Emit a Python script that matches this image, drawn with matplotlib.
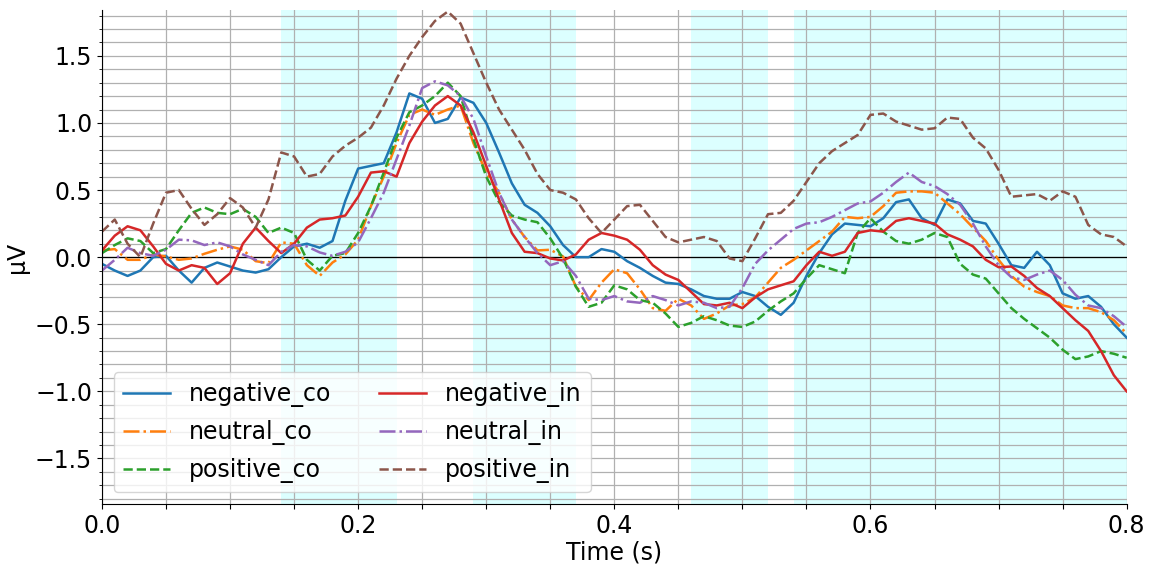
import numpy as np
import matplotlib
matplotlib.use("Agg")
import matplotlib.pyplot as plt
from matplotlib.ticker import MultipleLocator, FuncFormatter

# ----------------------------
# Data (10 ms steps)
# ----------------------------
times = np.round(np.arange(81) * 0.01, 2)

negative_co = [-0.05, -0.10, -0.14, -0.10, 0.00, 0.01, -0.10, -0.19, -0.08, -0.04,
               -0.07, -0.10, -0.115, -0.09, 0.00, 0.08, 0.10, 0.07, 0.12, 0.42,
               0.66, 0.68, 0.70, 0.93, 1.22, 1.18, 1.00, 1.03, 1.19, 1.15,
               1.00, 0.78, 0.55, 0.39, 0.33, 0.23, 0.09, 0.00, 0.00, 0.06,
               0.04, -0.03, -0.08, -0.14, -0.19, -0.20, -0.24, -0.29, -0.31, -0.31,
               -0.26, -0.29, -0.37, -0.43, -0.34, -0.14, 0.03, 0.17, 0.25, 0.24,
               0.23, 0.29, 0.41, 0.43, 0.29, 0.24, 0.43, 0.40, 0.27, 0.25,
               0.10, -0.06, -0.08, 0.04, -0.06, -0.27, -0.31, -0.29, -0.37, -0.50,
               -0.60]

neutral_co = [0.05, 0.06, -0.02, -0.02, 0.02, 0.005, -0.02, -0.01, 0.025, 0.055,
              0.08, 0.055, -0.03, -0.045, 0.11, 0.10, -0.06, -0.14, -0.04, 0.02,
              0.13, 0.38, 0.60, 0.85, 1.06, 1.10, 1.06, 1.10, 1.13, 0.85,
              0.63, 0.48, 0.28, 0.15, 0.05, 0.055, 0.005, -0.22, -0.32, -0.19,
              -0.09, -0.12, -0.24, -0.38, -0.40, -0.31, -0.36, -0.46, -0.42, -0.36,
              -0.35, -0.30, -0.19, -0.08, -0.02, 0.05, 0.12, 0.19, 0.30, 0.29,
              0.30, 0.38, 0.48, 0.49, 0.49, 0.48, 0.40, 0.32, 0.22, 0.12,
              -0.02, -0.14, -0.22, -0.26, -0.29, -0.36, -0.38, -0.38, -0.41, -0.47,
              -0.57]

positive_co = [0.03, 0.09, 0.14, 0.12, 0.03, 0.06, 0.20, 0.33, 0.37, 0.33,
               0.32, 0.36, 0.30, 0.18, 0.22, 0.18, -0.02, -0.10, 0.01, 0.03,
               0.18, 0.38, 0.63, 0.89, 1.08, 1.13, 1.20, 1.30, 1.20, 0.88,
               0.60, 0.41, 0.31, 0.28, 0.26, 0.14, -0.01, -0.22, -0.37, -0.34,
               -0.21, -0.24, -0.32, -0.34, -0.42, -0.52, -0.49, -0.44, -0.47, -0.51,
               -0.52, -0.48, -0.40, -0.33, -0.27, -0.16, -0.06, -0.09, -0.12, 0.18,
               0.29, 0.19, 0.12, 0.10, 0.13, 0.18, 0.15, -0.05, -0.13, -0.16,
               -0.27, -0.38, -0.46, -0.53, -0.60, -0.69, -0.76, -0.74, -0.70, -0.72,
               -0.75]

negative_in = [0.05, 0.16, 0.23, 0.20, 0.08, -0.05, -0.10, -0.06, -0.08, -0.20,
               -0.12, 0.10, 0.22, 0.12, 0.03, 0.10, 0.22, 0.28, 0.29, 0.31,
               0.45, 0.63, 0.64, 0.60, 0.85, 1.01, 1.13, 1.20, 1.13, 0.93,
               0.68, 0.43, 0.18, 0.04, 0.03, -0.01, -0.025, 0.02, 0.13, 0.18,
               0.16, 0.13, 0.055, -0.06, -0.13, -0.17, -0.26, -0.35, -0.36, -0.34,
               -0.38, -0.30, -0.24, -0.21, -0.18, -0.06, 0.04, 0.01, 0.04, 0.18,
               0.20, 0.19, 0.27, 0.29, 0.27, 0.25, 0.17, 0.13, 0.08, -0.02,
               -0.075, -0.07, -0.14, -0.23, -0.29, -0.38, -0.47, -0.55, -0.70, -0.88,
               -1.00]

neutral_in = [-0.10, -0.02, 0.07, 0.03, 0.01, 0.055, 0.13, 0.125, 0.09, 0.11,
              0.08, 0.02, -0.02, -0.06, 0.04, 0.09, 0.08, 0.035, 0.01, 0.04,
              0.11, 0.29, 0.48, 0.73, 0.98, 1.26, 1.31, 1.28, 1.20, 1.03,
              0.75, 0.48, 0.28, 0.15, 0.03, -0.06, -0.03, -0.14, -0.31, -0.32,
              -0.29, -0.33, -0.34, -0.29, -0.32, -0.36, -0.33, -0.34, -0.38, -0.37,
              -0.23, -0.05, 0.05, 0.13, 0.21, 0.25, 0.26, 0.30, 0.35, 0.40,
              0.415, 0.48, 0.56, 0.63, 0.56, 0.53, 0.47, 0.39, 0.25, 0.08,
              -0.06, -0.15, -0.17, -0.13, -0.10, -0.17, -0.28, -0.36, -0.38, -0.44,
              -0.52]

positive_in = [0.19, 0.28, 0.10, 0.00, 0.25, 0.48, 0.50, 0.36, 0.24, 0.32,
               0.44, 0.37, 0.22, 0.43, 0.78, 0.75, 0.60, 0.62, 0.75, 0.83,
               0.89, 0.965, 1.13, 1.33, 1.50, 1.64, 1.76, 1.83, 1.74, 1.52,
               1.30, 1.10, 0.95, 0.80, 0.62, 0.50, 0.48, 0.43, 0.29, 0.18,
               0.28, 0.38, 0.39, 0.27, 0.15, 0.11, 0.13, 0.15, 0.12, -0.01,
               -0.03, 0.14, 0.32, 0.33, 0.42, 0.56, 0.70, 0.79, 0.85, 0.91,
               1.06, 1.07, 1.01, 0.98, 0.95, 0.96, 1.04, 1.03, 0.89, 0.81,
               0.65, 0.45, 0.46, 0.47, 0.42, 0.49, 0.45, 0.24, 0.17, 0.15,
               0.08]

# shaded time windows (s)
windows = [(0.14, 0.23), (0.29, 0.37), (0.46, 0.52), (0.54, 0.80)]

series = [
    ("negative_co", negative_co, "tab:blue", "-"),
    ("neutral_co", neutral_co, "tab:orange", "-."),
    ("positive_co", positive_co, "tab:green", "--"),
    ("negative_in", negative_in, "tab:red", "-"),
    ("neutral_in", neutral_in, "tab:purple", "-."),
    ("positive_in", positive_in, "tab:brown", "--"),
]

# ----------------------------
# Plot
# ----------------------------
plt.rcParams["font.size"] = 17

fig, ax = plt.subplots(figsize=(11.52, 5.67), dpi=100)
fig.subplots_adjust(left=0.0885, right=0.978, top=0.982, bottom=0.111)

for start, stop in windows:
    ax.axvspan(start, stop, color="#dcffff", lw=0, zorder=0.5)

ax.axhline(0, color="black", lw=0.9, zorder=1.8)

for name, values, color, style in series:
    ax.plot(times, values, color=color, linestyle=style, lw=1.8,
            solid_joinstyle="round", dash_joinstyle="round", label=name)

ax.set_xlim(0, 0.8)
ax.set_ylim(-1.84, 1.84)

ax.xaxis.set_major_locator(MultipleLocator(0.05))
ax.xaxis.set_major_formatter(
    FuncFormatter(lambda v, p: f"{v:.1f}" if abs(v / 0.2 - round(v / 0.2)) < 1e-6 else ""))
ax.yaxis.set_major_locator(MultipleLocator(0.5))
ax.yaxis.set_minor_locator(MultipleLocator(0.1))

ax.grid(True, which="both", color="#b0b0b0", lw=0.9)

ax.spines["top"].set_visible(False)
ax.spines["right"].set_visible(False)

ax.set_xlabel("Time (s)", labelpad=2)
ax.set_ylabel("µV")

ax.legend(loc="lower left", ncol=2, fontsize=17, labelspacing=0.55,
          bbox_to_anchor=(0.0, 0.0))

plt.savefig("out.png", dpi=100)
plt.close()
